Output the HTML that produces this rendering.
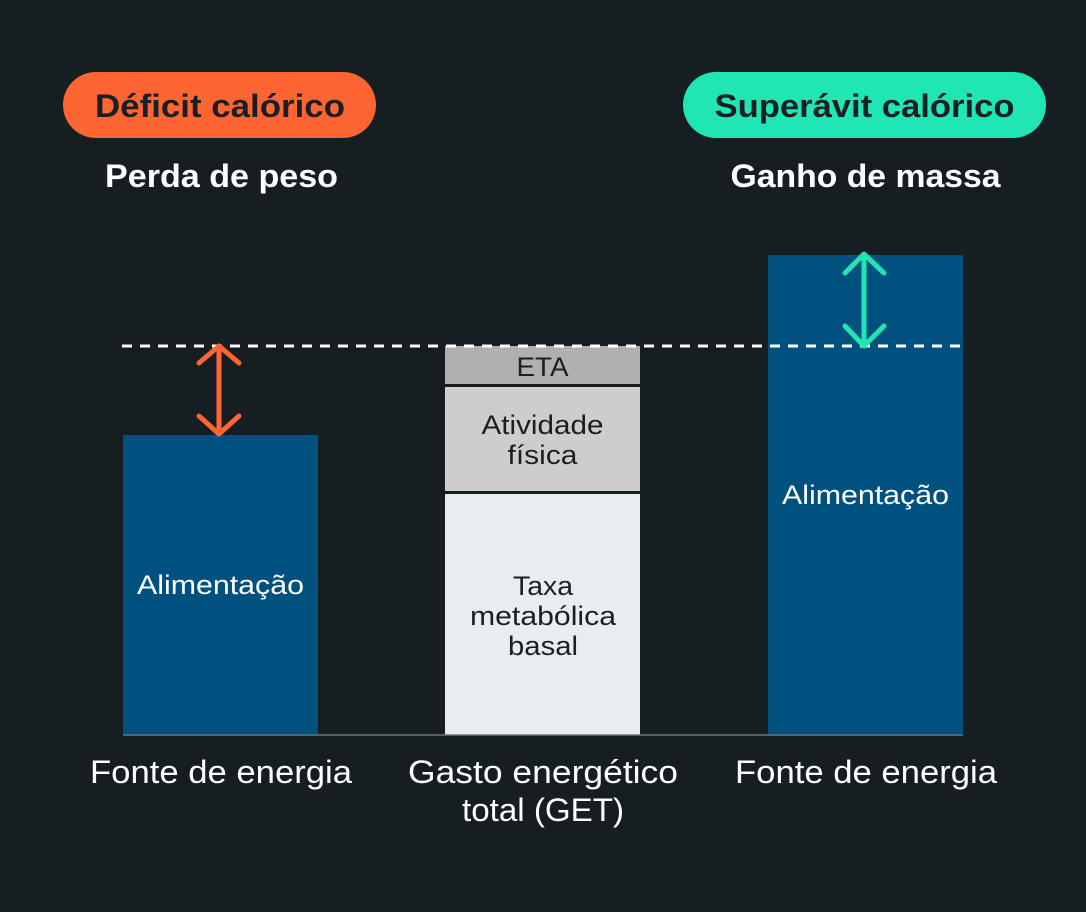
<!DOCTYPE html>
<html><head><meta charset="utf-8"><style>
body{margin:0;background:#171e22;}
svg{display:block}
text{font-family:"Liberation Sans",sans-serif}
</style></head><body>
<svg width="1086" height="912" viewBox="0 0 1086 912">
<rect width="1086" height="912" fill="#171e22"/>
<rect x="63" y="72" width="313" height="66" rx="33" fill="#ff6433"/>
<text x="220" y="117" text-anchor="middle" font-size="32" font-weight="bold" fill="#1a1f23" textLength="250" lengthAdjust="spacingAndGlyphs">Déficit calórico</text>
<rect x="683" y="72" width="363" height="66" rx="33" fill="#1fe6b3"/>
<text x="864.5" y="117" text-anchor="middle" font-size="32" font-weight="bold" fill="#1a1f23" textLength="300" lengthAdjust="spacingAndGlyphs">Superávit calórico</text>
<text x="221.5" y="187" text-anchor="middle" font-size="32" font-weight="bold" fill="#fff" textLength="233" lengthAdjust="spacingAndGlyphs">Perda de peso</text>
<text x="865.5" y="187" text-anchor="middle" font-size="32" font-weight="bold" fill="#fff" textLength="270" lengthAdjust="spacingAndGlyphs">Ganho de massa</text>
<rect x="123" y="435" width="195" height="300" fill="#005180"/>
<text x="220.5" y="594" text-anchor="middle" font-size="27" fill="#fff" textLength="167" lengthAdjust="spacingAndGlyphs">Alimentação</text>
<rect x="768" y="255" width="195" height="480" fill="#005180"/>
<text x="865.5" y="504" text-anchor="middle" font-size="27" fill="#fff" textLength="167" lengthAdjust="spacingAndGlyphs">Alimentação</text>
<rect x="445" y="346" width="195" height="38" fill="#b0b0b0"/>
<rect x="445" y="387" width="195" height="104" fill="#cdcdcd"/>
<rect x="445" y="494" width="195" height="241" fill="#eaedf0"/>
<g font-size="27" fill="#1a1f23" text-anchor="middle">
<text x="542.5" y="376" textLength="52" lengthAdjust="spacingAndGlyphs">ETA</text>
<text x="542.5" y="434" textLength="122" lengthAdjust="spacingAndGlyphs">Atividade</text>
<text x="542.5" y="464" textLength="70" lengthAdjust="spacingAndGlyphs">física</text>
<text x="543" y="595" textLength="60" lengthAdjust="spacingAndGlyphs">Taxa</text>
<text x="543" y="625" textLength="146" lengthAdjust="spacingAndGlyphs">metabólica</text>
<text x="543" y="655" textLength="70" lengthAdjust="spacingAndGlyphs">basal</text>
</g>
<line x1="123" y1="735" x2="963" y2="735" stroke="#6b7378" stroke-width="1.5"/>
<line x1="122" y1="346" x2="963" y2="346" stroke="#fff" stroke-width="3" stroke-dasharray="10 8"/>
<g stroke="#ff6433" stroke-width="5" stroke-linecap="round" stroke-linejoin="round" fill="none">
<line x1="219" y1="348" x2="219" y2="433"/>
<polyline points="199,363 219,346 239,363"/>
<polyline points="199,416 219,434 239,416"/>
</g>
<g stroke="#1fe6b3" stroke-width="5" stroke-linecap="round" stroke-linejoin="round" fill="none">
<line x1="864" y1="257" x2="864" y2="344"/>
<polyline points="845,273 864,254 884,273"/>
<polyline points="845,326 864,346 884,326"/>
</g>
<g font-size="32" fill="#fff" text-anchor="middle">
<text x="221" y="783" textLength="262" lengthAdjust="spacingAndGlyphs">Fonte de energia</text>
<text x="543" y="783" textLength="270" lengthAdjust="spacingAndGlyphs">Gasto energético</text>
<text x="543" y="821" textLength="162" lengthAdjust="spacingAndGlyphs">total (GET)</text>
<text x="866" y="783" textLength="262" lengthAdjust="spacingAndGlyphs">Fonte de energia</text>
</g>
</svg>
</body></html>
